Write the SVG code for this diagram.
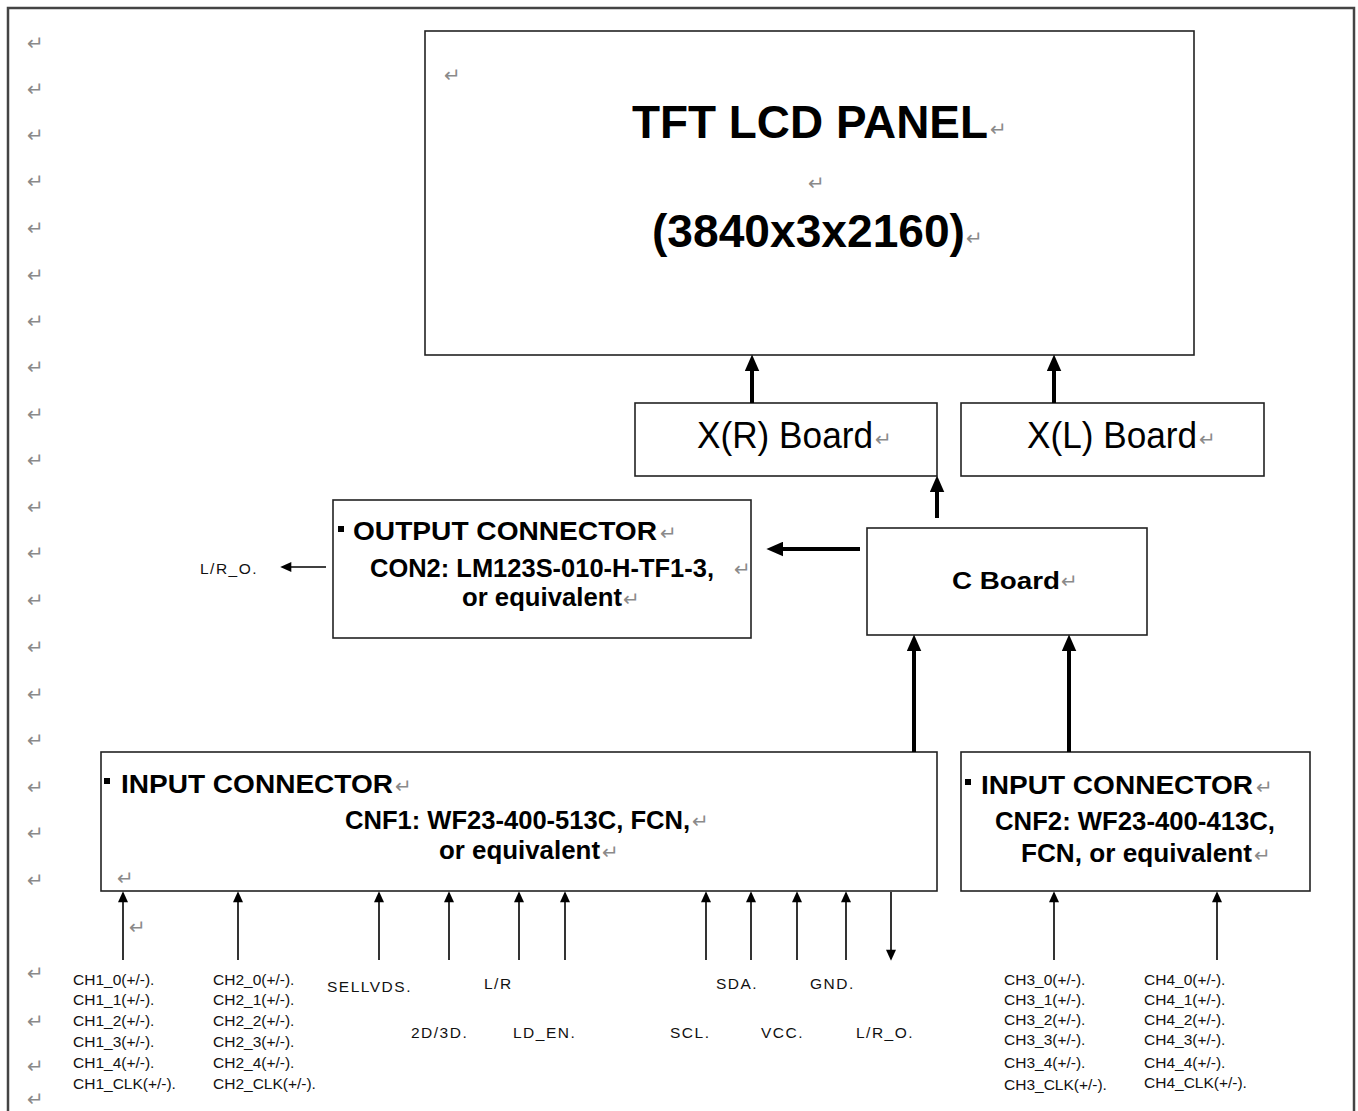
<svg xmlns="http://www.w3.org/2000/svg" width="1358" height="1111" viewBox="0 0 1358 1111">
<style>
.frame{fill:none;stroke:#444;stroke-width:2.5}
.box{fill:#fff;stroke:#222;stroke-width:1.6}
.t{font-family:"Liberation Sans",Arial,sans-serif;fill:#000}
.b{font-weight:bold}
.lbl{font-family:"Liberation Sans",Arial,sans-serif;font-size:15.5px;fill:#111}
.sp{letter-spacing:1.5px}
.ret{font-family:"DejaVu Sans",sans-serif;font-size:20px;fill:#8a8a8a}
.thin{stroke:#000;stroke-width:1.6;fill:none}
.thick{stroke:#000;stroke-width:4;fill:none}
</style>
<defs>
<marker id="ah" markerUnits="userSpaceOnUse" markerWidth="12" markerHeight="10" refX="3" refY="4.5" orient="auto" viewBox="0 0 10 9">
<path d="M0,0 L10,4.5 L0,9 z" fill="#000"/>
</marker>
<marker id="ahT" markerUnits="userSpaceOnUse" markerWidth="17" markerHeight="15" refX="6" refY="7" orient="auto" viewBox="0 0 16 14">
<path d="M0,0 L16,7 L0,14 z" fill="#000"/>
</marker>
</defs>
<rect x="0" y="0" width="1358" height="1111" fill="#fff"/>
<rect class="frame" x="8" y="8" width="1346" height="1115"/>

<g id="margin-marks">
<text class="ret" x="27" y="50">↵</text>
<text class="ret" x="27" y="96">↵</text>
<text class="ret" x="27" y="142">↵</text>
<text class="ret" x="27" y="188">↵</text>
<text class="ret" x="27" y="235">↵</text>
<text class="ret" x="27" y="282">↵</text>
<text class="ret" x="27" y="328">↵</text>
<text class="ret" x="27" y="374">↵</text>
<text class="ret" x="27" y="421">↵</text>
<text class="ret" x="27" y="467">↵</text>
<text class="ret" x="27" y="514">↵</text>
<text class="ret" x="27" y="560">↵</text>
<text class="ret" x="27" y="607">↵</text>
<text class="ret" x="27" y="654">↵</text>
<text class="ret" x="27" y="701">↵</text>
<text class="ret" x="27" y="747">↵</text>
<text class="ret" x="27" y="794">↵</text>
<text class="ret" x="27" y="840">↵</text>
<text class="ret" x="27" y="887">↵</text>
<text class="ret" x="27" y="980">↵</text>
<text class="ret" x="27" y="1028">↵</text>
<text class="ret" x="27" y="1073">↵</text>
<text class="ret" x="27" y="1106">↵</text>
</g>

<g id="tft-panel">
<rect class="box" x="425" y="31" width="769" height="324"/>
<text class="ret" x="444" y="82">↵</text>
<text class="t b" x="632" y="138" font-size="46" textLength="356" lengthAdjust="spacingAndGlyphs">TFT LCD PANEL</text>
<text class="ret" x="990" y="136">↵</text>
<text class="ret" x="808" y="190">↵</text>
<text class="t b" x="652" y="247" font-size="46" textLength="313" lengthAdjust="spacingAndGlyphs">(3840x3x2160)</text>
<text class="ret" x="966" y="245">↵</text>
</g>

<g id="xr-board">
<rect class="box" x="635" y="403" width="302" height="73"/>
<text class="t" x="697" y="448" font-size="36" textLength="176" lengthAdjust="spacingAndGlyphs">X(R) Board</text>
<text class="ret" x="875" y="446">↵</text>
</g>

<g id="xl-board">
<rect class="box" x="961" y="403" width="303" height="73"/>
<text class="t" x="1027" y="448" font-size="36" textLength="170" lengthAdjust="spacingAndGlyphs">X(L) Board</text>
<text class="ret" x="1199" y="446">↵</text>
</g>

<g id="c-board">
<rect class="box" x="867" y="528" width="280" height="107"/>
<text class="t b" x="952" y="589" font-size="24" textLength="108" lengthAdjust="spacingAndGlyphs">C Board</text>
<text class="ret" x="1061" y="588">↵</text>
</g>

<g id="output-connector">
<rect class="box" x="333" y="500" width="418" height="138"/>
<rect x="338" y="526" width="6" height="6" fill="#000"/>
<text class="t b" x="353" y="540" font-size="25" textLength="304" lengthAdjust="spacingAndGlyphs">OUTPUT CONNECTOR</text>
<text class="ret" x="660" y="540">↵</text>
<text class="t b" x="370" y="577" font-size="26" textLength="344" lengthAdjust="spacingAndGlyphs">CON2: LM123S-010-H-TF1-3,</text>
<text class="ret" x="734" y="576">↵</text>
<text class="t b" x="462" y="606" font-size="26" textLength="160" lengthAdjust="spacingAndGlyphs">or equivalent</text>
<text class="ret" x="623" y="606">↵</text>
</g>

<g id="input-connector-1">
<rect class="box" x="101" y="752" width="836" height="139"/>
<rect x="104" y="778" width="6" height="6" fill="#000"/>
<text class="t b" x="121" y="793" font-size="25" textLength="272" lengthAdjust="spacingAndGlyphs">INPUT CONNECTOR</text>
<text class="ret" x="395" y="793">↵</text>
<text class="t b" x="345" y="829" font-size="25" textLength="345" lengthAdjust="spacingAndGlyphs">CNF1: WF23-400-513C, FCN,</text>
<text class="ret" x="692" y="828">↵</text>
<text class="t b" x="439" y="859" font-size="25" textLength="161" lengthAdjust="spacingAndGlyphs">or equivalent</text>
<text class="ret" x="602" y="859">↵</text>
<text class="ret" x="117" y="885">↵</text>
</g>

<g id="input-connector-2">
<rect class="box" x="961" y="752" width="349" height="139"/>
<rect x="965" y="779" width="6" height="6" fill="#000"/>
<text class="t b" x="981" y="794" font-size="25" textLength="272" lengthAdjust="spacingAndGlyphs">INPUT CONNECTOR</text>
<text class="ret" x="1256" y="794">↵</text>
<text class="t b" x="995" y="830" font-size="25" textLength="280" lengthAdjust="spacingAndGlyphs">CNF2: WF23-400-413C,</text>
<text class="t b" x="1021" y="862" font-size="25" textLength="231" lengthAdjust="spacingAndGlyphs">FCN, or equivalent</text>
<text class="ret" x="1254" y="862">↵</text>
</g>

<g id="connectors">
<line class="thick" x1="752" y1="403" x2="752" y2="365" marker-end="url(#ahT)"/>
<line class="thick" x1="1054" y1="403" x2="1054" y2="365" marker-end="url(#ahT)"/>
<line class="thick" x1="937" y1="518" x2="937" y2="486" marker-end="url(#ahT)"/>
<line class="thick" x1="860" y1="549" x2="777" y2="549" marker-end="url(#ahT)"/>
<line class="thick" x1="914" y1="752" x2="914" y2="645" marker-end="url(#ahT)"/>
<line class="thick" x1="1069" y1="752" x2="1069" y2="645" marker-end="url(#ahT)"/>
<line class="thin" x1="326" y1="567" x2="288" y2="567" marker-end="url(#ah)"/>
<line class="thin" x1="123" y1="960" x2="123" y2="899" marker-end="url(#ah)"/>
<line class="thin" x1="238" y1="960" x2="238" y2="899" marker-end="url(#ah)"/>
<line class="thin" x1="379" y1="960" x2="379" y2="899" marker-end="url(#ah)"/>
<line class="thin" x1="449" y1="960" x2="449" y2="899" marker-end="url(#ah)"/>
<line class="thin" x1="519" y1="960" x2="519" y2="899" marker-end="url(#ah)"/>
<line class="thin" x1="565" y1="960" x2="565" y2="899" marker-end="url(#ah)"/>
<line class="thin" x1="706" y1="960" x2="706" y2="899" marker-end="url(#ah)"/>
<line class="thin" x1="751" y1="960" x2="751" y2="899" marker-end="url(#ah)"/>
<line class="thin" x1="797" y1="960" x2="797" y2="899" marker-end="url(#ah)"/>
<line class="thin" x1="846" y1="960" x2="846" y2="899" marker-end="url(#ah)"/>
<line class="thin" x1="891" y1="892" x2="891" y2="953" marker-end="url(#ah)"/>
<line class="thin" x1="1054" y1="960" x2="1054" y2="899" marker-end="url(#ah)"/>
<line class="thin" x1="1217" y1="960" x2="1217" y2="899" marker-end="url(#ah)"/>
</g>

<g id="signal-labels">
<text class="lbl sp" x="200" y="574">L/R_O.</text>
<text class="ret" x="129" y="934">↵</text>
<g id="ch1">
<text class="lbl" x="73" y="985">CH1_0(+/-).</text>
<text class="lbl" x="73" y="1005">CH1_1(+/-).</text>
<text class="lbl" x="73" y="1026">CH1_2(+/-).</text>
<text class="lbl" x="73" y="1047">CH1_3(+/-).</text>
<text class="lbl" x="73" y="1068">CH1_4(+/-).</text>
<text class="lbl" x="73" y="1089">CH1_CLK(+/-).</text>
</g>
<g id="ch2">
<text class="lbl" x="213" y="985">CH2_0(+/-).</text>
<text class="lbl" x="213" y="1005">CH2_1(+/-).</text>
<text class="lbl" x="213" y="1026">CH2_2(+/-).</text>
<text class="lbl" x="213" y="1047">CH2_3(+/-).</text>
<text class="lbl" x="213" y="1068">CH2_4(+/-).</text>
<text class="lbl" x="213" y="1089">CH2_CLK(+/-).</text>
</g>
<text class="lbl sp" x="327" y="992">SELLVDS.</text>
<text class="lbl sp" x="484" y="989">L/R</text>
<text class="lbl sp" x="411" y="1038">2D/3D.</text>
<text class="lbl sp" x="513" y="1038">LD_EN.</text>
<text class="lbl sp" x="716" y="989">SDA.</text>
<text class="lbl sp" x="810" y="989">GND.</text>
<text class="lbl sp" x="670" y="1038">SCL.</text>
<text class="lbl sp" x="761" y="1038">VCC.</text>
<text class="lbl sp" x="856" y="1038">L/R_O.</text>
<g id="ch3">
<text class="lbl" x="1004" y="985">CH3_0(+/-).</text>
<text class="lbl" x="1004" y="1005">CH3_1(+/-).</text>
<text class="lbl" x="1004" y="1025">CH3_2(+/-).</text>
<text class="lbl" x="1004" y="1045">CH3_3(+/-).</text>
<text class="lbl" x="1004" y="1068">CH3_4(+/-).</text>
<text class="lbl" x="1004" y="1090">CH3_CLK(+/-).</text>
</g>
<g id="ch4">
<text class="lbl" x="1144" y="985">CH4_0(+/-).</text>
<text class="lbl" x="1144" y="1005">CH4_1(+/-).</text>
<text class="lbl" x="1144" y="1025">CH4_2(+/-).</text>
<text class="lbl" x="1144" y="1045">CH4_3(+/-).</text>
<text class="lbl" x="1144" y="1068">CH4_4(+/-).</text>
<text class="lbl" x="1144" y="1088">CH4_CLK(+/-).</text>
</g>
</g>
</svg>
